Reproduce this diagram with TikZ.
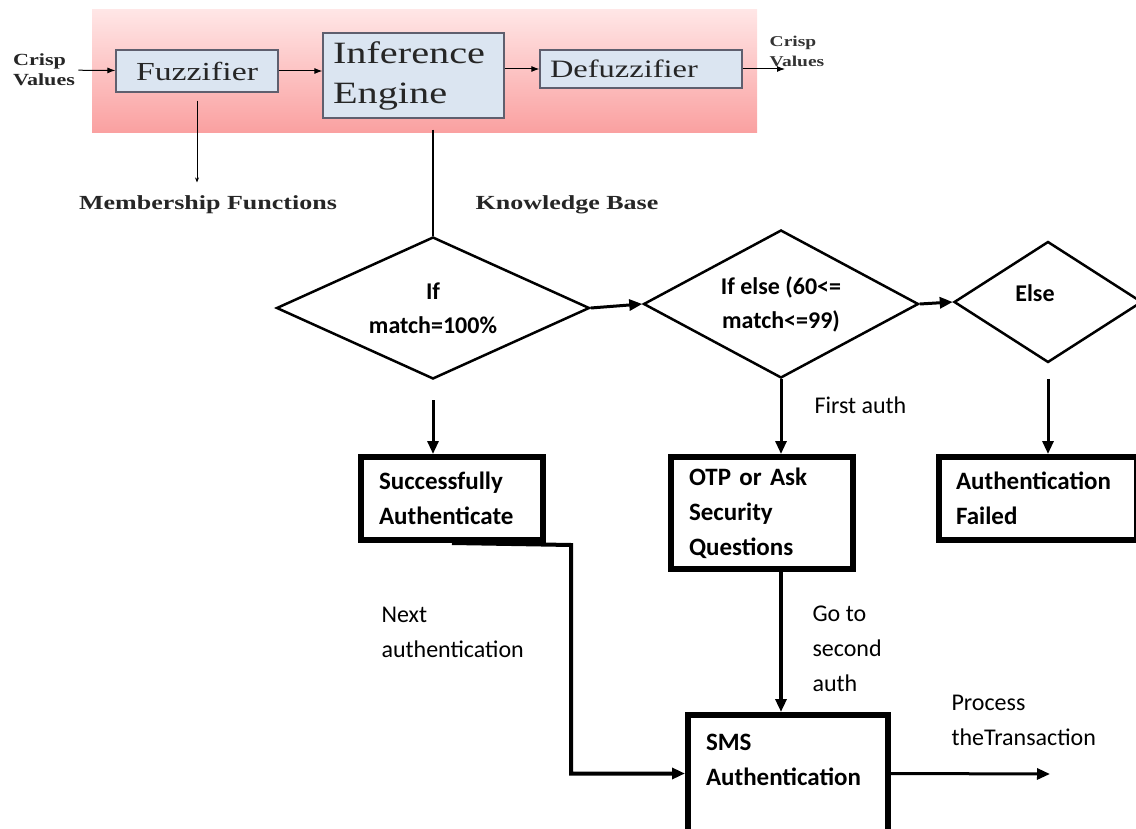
\documentclass[tikz,border=0pt]{standalone}
\usepackage{fontspec}
\setmainfont{Carlito}
\newfontfamily\blurserif[FakeStretch=1.3]{Liberation Serif}
\usepackage{tikz}
\usetikzlibrary{shapes.geometric,arrows.meta,positioning,calc}
\definecolor{panelTop}{RGB}{255,230,230}
\definecolor{panelBottom}{RGB}{250,160,160}
\definecolor{boxBlue}{RGB}{219,229,241}
\definecolor{boxEdge}{RGB}{95,95,110}

\begin{document}
\begin{tikzpicture}[x=1pt,y=-1pt,
    fuzzbox/.style={draw=boxEdge,fill=boxBlue,line width=1.2pt,inner sep=0pt,text=black!85},
    serif/.style={font=\blurserif\fontsize{#1}{#1}\selectfont,text=black!85},
    link/.style={line width=1pt,-{Latex[length=8pt,width=6pt]}},
    decision/.style={diamond,draw,line width=2.5pt,inner sep=0pt,align=center,
                     font=\bfseries\fontsize{24}{34}\selectfont},
    stepbox/.style={draw,line width=6pt,align=left,inner xsep=18pt,
                    font=\bfseries\fontsize{25}{35}\selectfont},
    note/.style={font=\fontsize{24}{35}\selectfont,align=left,anchor=west},
    flow/.style={line width=3pt,-{Triangle[length=13pt,width=11pt]}}
]
\useasboundingbox (0,0) rectangle (1136,829);

% fuzzy controller
\node[top color=panelTop,bottom color=panelBottom,minimum width=665pt,minimum height=123pt] (panel) at (424.5,71.5) {};
\node[fuzzbox,minimum width=162pt,minimum height=42pt,serif=26] (fuzz) at (197,71) {Fuzzifier};
\node[fuzzbox,minimum width=181pt,minimum height=85pt,align=left,text width=161pt,inner xsep=10pt,
      font=\blurserif\fontsize{31}{40}\selectfont] (infer) at (413.5,75.5) {Inference\\Engine};
\node[fuzzbox,minimum width=202pt,minimum height=38pt,align=left,text width=182pt,inner xsep=10pt,serif=25] (defuzz) at (641,69) {Defuzzifier};
\node[font=\blurserif\bfseries\fontsize{17}{20}\selectfont,align=left,text=black!85] (crispin) at (44,70) {Crisp\\Values};
\node[font=\blurserif\bfseries\fontsize{15}{20}\selectfont,align=left,text=black!80] (crispout) at (797,51) {Crisp\\Values};
\coordinate (crispend) at (785,69);
\node[font=\blurserif\bfseries\fontsize{20}{20}\selectfont,text=black!85] (memb) at (208,205) {Membership Functions};
\node[font=\blurserif\bfseries\fontsize{20}{20}\selectfont,text=black!85] (know) at (567,205) {Knowledge Base};

\draw[link] (crispin) -- (fuzz);
\draw[link] (fuzz.east) -- (fuzz.east -| infer.west);
\draw[link] (infer.east |- defuzz.west) -- (defuzz.west);
\draw[link] (defuzz.east) -- (crispend);
\draw[line width=1pt,-{Stealth[length=5pt,width=4pt]},shorten <=8pt,shorten >=10pt] (fuzz.south) -- (fuzz.south |- memb.north);

% decisions
\node[decision,aspect=2.2,minimum width=313pt,minimum height=142pt] (d1) at (433,308) {If\\match=100\%};
\node[decision,aspect=1.86,minimum width=275pt,minimum height=148pt] (d2) at (781,304) {If else (60<=\\match<=99)};
\node[decision,aspect=1.55,minimum width=188pt,minimum height=121pt,text depth=18pt] (d3) at (1048,302) {Else\hspace{26pt}};
\draw[line width=2.5pt,shorten <=11pt] (d1.north |- infer.south) -- (d1.north);

\draw[flow] (d1.east) -- (d2.west);
\draw[flow] (d2.east) -- (d3.west);

% outcomes
\node[stepbox,text width=146pt,minimum height=83pt] (succ) at (452,498.5) {Successfully\\Authenticate};
\node[stepbox,text width=146pt,minimum height=112pt] (otp) at (762,513) {OTP or Ask\\Security\\Questions};
\node[stepbox,text width=164pt,inner xsep=17pt,minimum height=83pt] (fail) at (1038,498.5) {Authentication\\Failed};
\node[stepbox,text width=164pt,minimum height=117pt,text depth=62pt] (sms) at (788,773.5) {SMS\\Authentication};

\draw[flow,shorten <=20pt] (d1.south) -- (d1.south |- succ.north);
\draw[flow] (d2.south) -- (d2.south |- otp.north);
\draw[flow,shorten <=15pt] (d3.south) -- (d3.south |- fail.north);
\draw[flow,line width=4.5pt] (d2.south |- otp.south) -- (d2.south |- sms.north);

\coordinate (turn) at (571,545);
\coordinate (done) at (1050,774);
\draw[flow,line width=4pt] (succ.south) -- (turn) |- (sms.west);
\draw[flow] (sms.east) -- (done);

\node[note] (first) at (811,405) {First auth};
\node[note] (next) at (378,632) {Next\\authentication};
\node[note] (second) at (809,649) {Go to\\second\\auth};
\node[note] (process) at (948,720) {Process\\theTransaction};
\end{tikzpicture}
\end{document}
